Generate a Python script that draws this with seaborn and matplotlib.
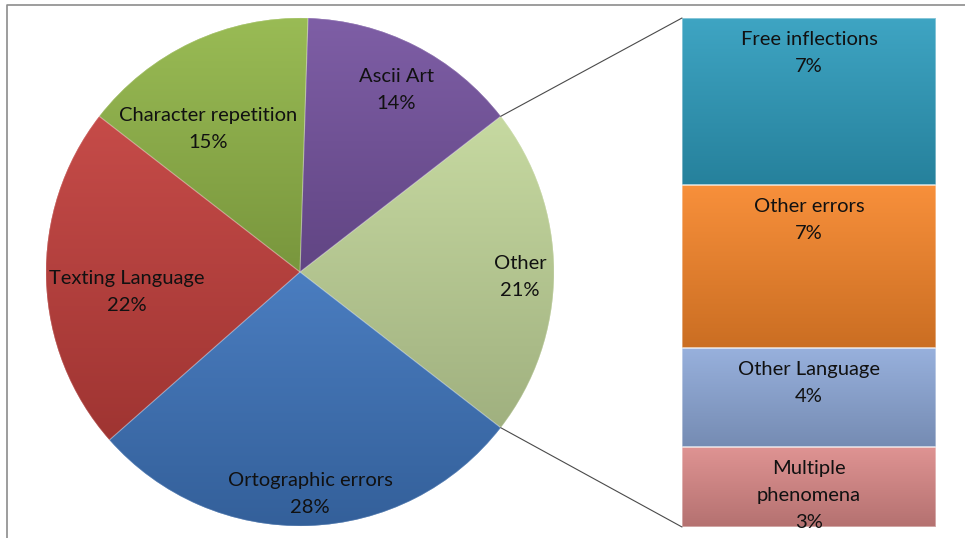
import numpy as np
import matplotlib
matplotlib.use("Agg")
import matplotlib.pyplot as plt
import seaborn as sns
from matplotlib.patches import ConnectionPatch, Wedge, Rectangle
from matplotlib.lines import Line2D
from matplotlib.colors import to_rgb

# ---- data ----
pie_labels = ["Other", "Ascii Art", "Character repetition", "Texting Language", "Ortographic errors"]
pie_values = [21, 14, 15, 22, 28]
pie_pct = ["21%", "14%", "15%", "22%", "28%"]
bar_labels = ["Free inflections", "Other errors", "Other Language", "Multiple\nphenomena"]
bar_values = [6.9, 6.7, 4.1, 3.3]
bar_pct = ["7%", "7%", "4%", "3%"]

# ---- style ----
sns.set_theme(style="white")
plt.rcParams["font.family"] = ["Lato", "DejaVu Sans"]
pie_colors = sns.color_palette(["#C3D79B", "#7654A0", "#93B74A", "#C2403D", "#3F75BC"])
bar_colors = sns.color_palette(["#2E9DBE", "#F7862A", "#8FAADA", "#DC8A89"])
FS = 14.5
LS = 1.7
TXT = "#111111"

W, H = 965, 538
fig = plt.figure(figsize=(W / 100, H / 100), dpi=100)
fig.patch.set_facecolor("white")


def fx(px):
    return px / W


def fy(py):
    return 1 - py / H


def mix(c, other, a):
    c = np.array(to_rgb(c))
    o = np.array(to_rgb(other))
    return c * (1 - a) + o * a


def shade(ax, patch, color, extent, light=0.06, dark=0.18):
    top = mix(color, "white", light)
    bot = mix(color, "black", dark)
    t = np.linspace(0, 1, 256)[:, None]
    rgb = top[None, :] * (1 - t) + bot[None, :] * t
    img = np.repeat(rgb[:, None, :], 2, axis=1)
    im = ax.imshow(img, extent=extent, origin="upper", aspect="auto",
                   interpolation="bilinear", zorder=patch.get_zorder() + 0.05)
    im.set_clip_path(patch)


# ---- pie ----
cx, cy, R = 300, 272, 254
ax_pie = fig.add_axes([fx(cx - R), fy(cy + R), 2 * R / W, 2 * R / H])
total = sum(pie_values)
start = -180.0 * pie_values[0] / total
wedges, _ = ax_pie.pie(pie_values, colors=pie_colors, startangle=start,
                       counterclock=True, radius=1,
                       wedgeprops=dict(linewidth=0))
for w, c in zip(wedges, pie_colors):
    ext = w.get_path().get_extents()
    shade(ax_pie, w, c, [ext.x0, ext.x1, ext.y0, ext.y1])
    w2 = Wedge(w.center, w.r, w.theta1, w.theta2, facecolor="none",
               edgecolor=(1, 1, 1, 0.22), linewidth=0.8, zorder=w.get_zorder() + 0.1)
    ax_pie.add_patch(w2)
ax_pie.set_xlim(-1, 1)
ax_pie.set_ylim(-1, 1)
ax_pie.set_aspect("equal")
ax_pie.axis("off")

label_r = [0.866, 0.81, 0.67, 0.685, 0.874]
label_dtheta = [-1.3, -1.0, 7.4, 4.8, 0.8]
for w, lab, pct, r, dt in zip(wedges, pie_labels, pie_pct, label_r, label_dtheta):
    th = np.deg2rad((w.theta1 + w.theta2) / 2 + dt)
    ax_pie.text(r * np.cos(th), r * np.sin(th), f"{lab}\n{pct}", ha="center",
                va="center", fontsize=FS, color=TXT, linespacing=LS, zorder=10)

# ---- stacked bar ----
bx0, bx1, by0, by1 = 682, 936, 18, 527
ax_bar = fig.add_axes([fx(bx0), fy(by1), (bx1 - bx0) / W, (by1 - by0) / H])
bottoms = np.concatenate([[0], np.cumsum(bar_values)[:-1]])
bars = ax_bar.bar([0] * len(bar_values), bar_values, bottom=bottoms, width=1,
                  color=bar_colors, linewidth=0)
for b, c in zip(bars, bar_colors):
    x0, y0 = b.get_x(), b.get_y()
    shade(ax_bar, b, c, [x0, x0 + b.get_width(), y0 + b.get_height(), y0],
          light=0.08, dark=0.18)
    b2 = Rectangle((x0, y0), b.get_width(), b.get_height(), facecolor="none",
                   edgecolor=(1, 1, 1, 0.45), linewidth=1.2, zorder=5)
    ax_bar.add_patch(b2)
ax_bar.set_xlim(-0.5, 0.5)
ax_bar.set_ylim(sum(bar_values), 0)
ax_bar.axis("off")
for lab, pct, b0 in zip(bar_labels, bar_pct, bottoms):
    ax_bar.annotate(f"{lab}\n{pct}", xy=(0, b0), xytext=(0, -9.5),
                    textcoords="offset points", ha="center", va="top",
                    fontsize=FS, color=TXT, linespacing=LS, zorder=10)

# ---- connector lines ----
other = wedges[0]
for ang, ybar in [(other.theta2, 0), (other.theta1, sum(bar_values))]:
    th = np.deg2rad(ang)
    con = ConnectionPatch(xyA=(np.cos(th), np.sin(th)), coordsA=ax_pie.transData,
                          xyB=(-0.5, ybar), coordsB=ax_bar.transData,
                          color="#4a4a4a", linewidth=0.8)
    fig.add_artist(con)

# ---- outer frame ----
fig.add_artist(Line2D([fx(7), fx(7), 1.0], [0, fy(5), fy(5)],
                      transform=fig.transFigure, color="#8c8c8c", linewidth=1.2))

fig.savefig("out.png", dpi=100)
